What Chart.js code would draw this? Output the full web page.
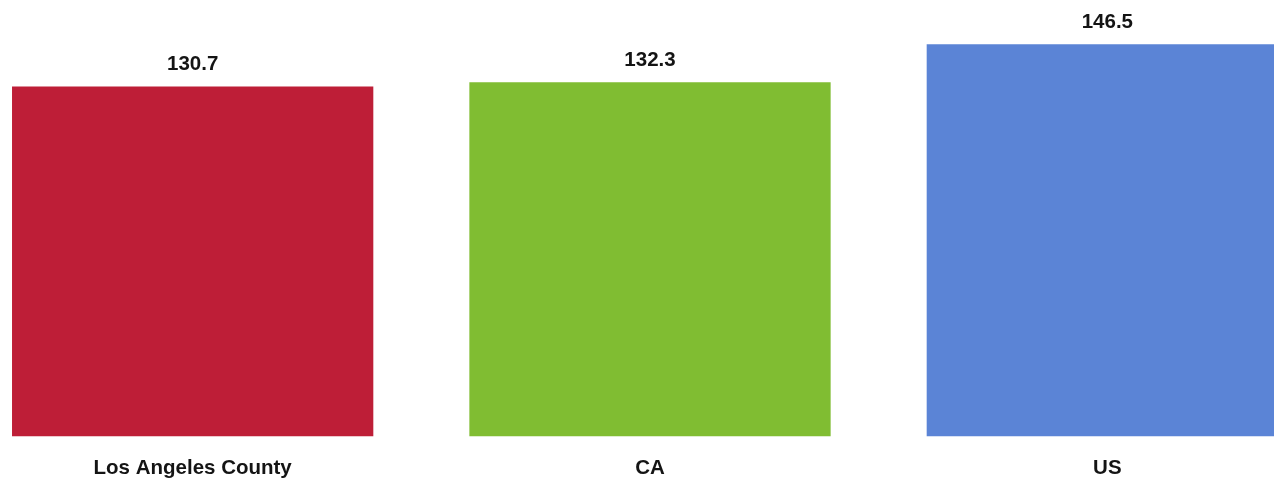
<!DOCTYPE html>
<html>
<head>
<meta charset="utf-8">
<script src="https://cdn.jsdelivr.net/npm/chart.js@4"></script>
<style>
    html, body { margin: 0; padding: 0; background: #fff; overflow: hidden; }
    #wrap { position: absolute; left: -36px; top: 0; width: 1372px; height: 486px; }
</style>
</head>
<body>
<div id="wrap"><canvas id="rateChart" width="1372" height="486"></canvas></div>
<script>
const regions = ['Los Angeles County', 'CA', 'US'];
const rates = [130.7, 132.3, 146.5];
const barColors = ['#BE1E37', '#80BD32', '#5B84D6'];

// value labels above each bar
const valueLabels = {
    id: 'valueLabels',
    afterDatasetsDraw(chart) {
        const ctx = chart.ctx;
        const meta = chart.getDatasetMeta(0);
        ctx.save();
        ctx.font = 'bold 20.5px "Liberation Sans", Arial, sans-serif';
        ctx.fillStyle = '#141414';
        ctx.textAlign = 'center';
        ctx.textBaseline = 'alphabetic';
        meta.data.forEach(function (bar, i) {
            ctx.fillText(rates[i].toFixed(1), bar.x, bar.y - 16);
        });
        ctx.restore();
    }
};

window.onload = function () {
    const ctx = document.getElementById('rateChart').getContext('2d');
    new Chart(ctx, {
        type: 'bar',
        data: {
            labels: regions,
            datasets: [{
                data: rates,
                backgroundColor: barColors,
                borderWidth: 0,
                barPercentage: 0.79,
                categoryPercentage: 1
            }]
        },
        options: {
            responsive: false,
            animation: false,
            layout: { padding: { top: 8, bottom: -15, left: 0, right: 0 } },
            plugins: {
                legend: { display: false },
                tooltip: { enabled: false }
            },
            scales: {
                x: {
                    grid: { display: false, drawTicks: false },
                    border: { display: false },
                    ticks: {
                        color: '#141414',
                        padding: 20,
                        font: { family: '"Liberation Sans", Arial, sans-serif', size: 20.5, weight: 'bold' }
                    }
                },
                y: {
                    display: false,
                    min: 0,
                    max: 160
                }
            }
        },
        plugins: [valueLabels]
    });
};
</script>
</body>
</html>
